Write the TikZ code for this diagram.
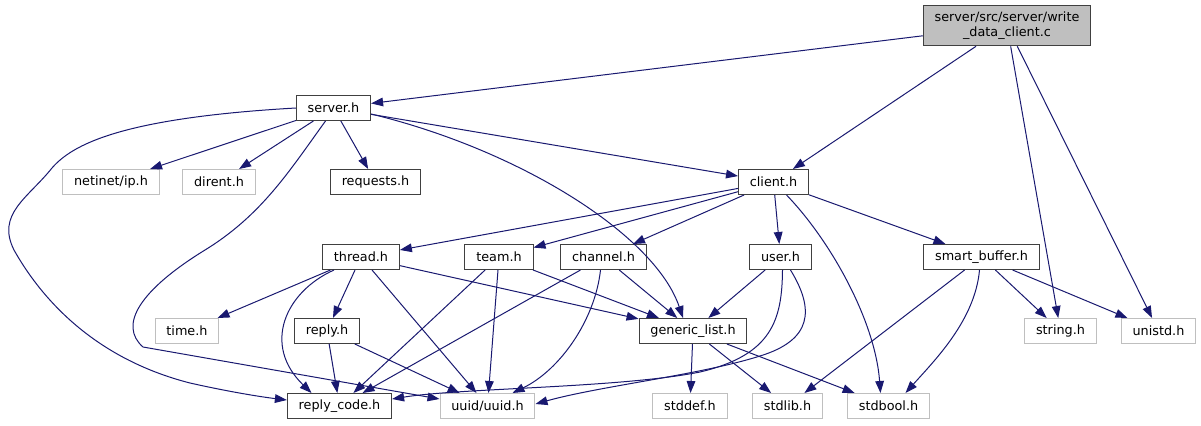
\documentclass[tikz,border=0pt]{standalone}
\usepackage{fontspec}
\setmainfont{DejaVu Sans}
\usepackage{tikz}
\usetikzlibrary{positioning, arrows.meta, calc}

\definecolor{edgeblue}{HTML}{191970}
\definecolor{extgray}{HTML}{BFBFBF}
\definecolor{docgray}{HTML}{404040}

\begin{document}
\begin{tikzpicture}[
    x=0.75pt, y=-0.75pt,
    file/.style={draw=docgray, line width=0.75pt, minimum height=18.75pt, inner xsep=8.5pt, inner ysep=2pt, font=\fontsize{9.6}{11.5}\selectfont},
    extfile/.style={file, draw=extgray},
    mainfile/.style={file, fill=extgray, align=center, minimum height=30.5pt},
    dep/.style={-{Triangle[length=9pt,width=6.5pt]}, edgeblue, line width=0.75pt}
]
    \useasboundingbox (0,0) rectangle (1201,425);

    % source file
    \node[mainfile] (src) at (1007,25.5) {server/src/server/write\\\_data\_client.c};

    % first level
    \node[file] (server) at (333.5,108) {server.h};
    \node[extfile] (netinet) at (111,182) {netinet/ip.h};
    \node[extfile] (dirent) at (219,182) {dirent.h};
    \node[file] (requests) at (375.5,182) {requests.h};
    \node[file] (client) at (773.5,182) {client.h};

    % headers pulled in by client.h
    \node[file] (thread) at (361,257) {thread.h};
    \node[file] (team) at (499,257) {team.h};
    \node[file] (channel) at (603.5,257) {channel.h};
    \node[file] (user) at (780.5,257) {user.h};
    \node[file] (smartbuf) at (981.5,257) {smart\_buffer.h};

    \node[extfile] (timeh) at (187,331) {time.h};
    \node[file] (reply) at (327,331) {reply.h};
    \node[file] (glist) at (693,331) {generic\_list.h};
    \node[extfile] (stringh) at (1060.5,331) {string.h};
    \node[extfile] (unistd) at (1158.5,331) {unistd.h};

    % bottom row
    \node[file] (replycode) at (339.5,406) {reply\_code.h};
    \node[extfile] (uuid) at (487.5,406) {uuid/uuid.h};
    \node[extfile] (stddef) at (690,406) {stddef.h};
    \node[extfile] (stdlib) at (787.5,406) {stdlib.h};
    \node[extfile] (stdbool) at (888.5,406) {stdbool.h};

    % write_data_client.c
    \draw[dep] (src) -- (server);
    \draw[dep] (src) -- (client);
    \draw[dep] (src) -- (stringh);
    \draw[dep] (src) -- (unistd);

    % server.h
    \draw[dep] (server.west) .. controls (120,118) and (72,145) .. (52,168)
        .. controls (28,198) and (-4,214) .. (14,250)
        .. controls (45,305) and (100,360) .. (190,383)
        .. controls (230,392) and (262,397) .. ($(replycode.west)+(0,-6)$);
    \draw[dep] (server) -- (netinet);
    \draw[dep] (server) -- (dirent);
    \draw[dep] ($(server.south)+(-8,0)$) .. controls (290,170) and (262,215) .. (205,250)
        .. controls (140,290) and (118,325) .. (143,347) -- ($(uuid.west)+(0,-7)$);
    \draw[dep] (server) -- (requests);
    \draw[dep] ($(server.east)+(0,6)$) .. controls (520,150) and (655,235) .. ($(glist.north)+(-10,0)$);
    \draw[dep] (server) -- (client);

    % client.h
    \draw[dep] (client) -- (thread);
    \draw[dep] (client) -- (team);
    \draw[dep] (client) -- (channel);
    \draw[dep] (client) -- (user);
    \draw[dep] ($(client.south)+(13,0)$) .. controls (830,240) and (875,320) .. ($(stdbool.north)+(-8,0)$);
    \draw[dep] (client) -- (smartbuf);

    % thread.h
    \draw[dep] (thread) -- (timeh);
    \draw[dep] (thread) -- (reply);
    \draw[dep] ($(thread.south)+(-27,0)$) .. controls (285,292) and (262,345) .. ($(replycode.north)+(-28,0)$);
    \draw[dep] (thread) -- (uuid);
    \draw[dep] (thread) -- (glist);

    % team.h
    \draw[dep] (team) -- (replycode);
    \draw[dep] (team) -- (uuid);
    \draw[dep] (team) -- (glist);

    % channel.h
    \draw[dep] (channel) -- (replycode);
    \draw[dep] ($(channel.south)+(-3,0)$) .. controls (595,320) and (560,370) .. ($(uuid.north)+(25,0)$);
    \draw[dep] (channel) -- (glist);

    % user.h
    \draw[dep] (user) -- (glist);
    \draw[dep] ($(user.south)+(2,0)$) .. controls (782,320) and (772,355) .. (700,372)
        .. controls (620,388) and (460,388) .. ($(replycode.east)+(0,-7)$);
    \draw[dep] ($(user.south)+(10,0)$) .. controls (815,310) and (812,340) .. (760,356)
        .. controls (700,375) and (600,386) .. ($(uuid.east)+(0,-2)$);

    % reply.h
    \draw[dep] (reply) -- (replycode);
    \draw[dep] (reply) -- (uuid);

    % generic_list.h
    \draw[dep] (glist) -- (stddef);
    \draw[dep] (glist) -- (stdlib);
    \draw[dep] (glist) -- (stdbool);

    % smart_buffer.h
    \draw[dep] (smartbuf) -- (stdlib);
    \draw[dep] ($(smartbuf.south)+(-2,0)$) .. controls (975,320) and (935,360) .. ($(stdbool.north)+(17,0)$);
    \draw[dep] (smartbuf) -- (stringh);
    \draw[dep] (smartbuf) -- (unistd);
\end{tikzpicture}
\end{document}
